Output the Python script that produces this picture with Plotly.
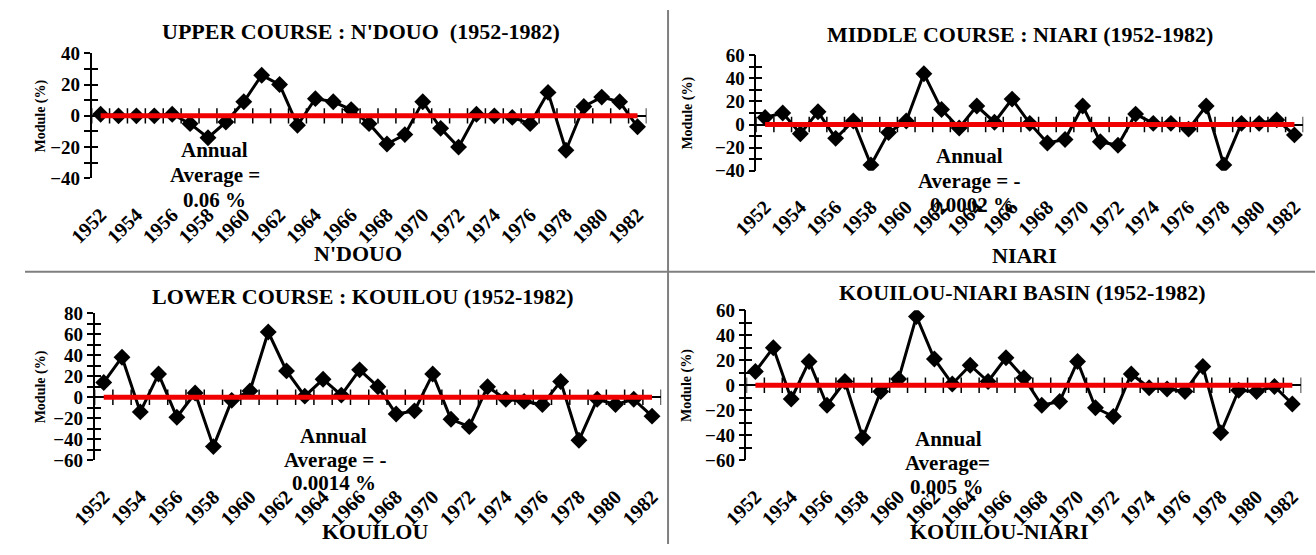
import plotly.graph_objects as go

W, H = 1316, 555
FONT = "Liberation Serif"

years = list(range(1952, 1983))

ndouo = [1, 0, 0, 0, 1, -5, -14, -4, 9, 26, 20, -6, 11, 9, 4, -5, -18, -12, 9, -8, -20,
         1, 0, -1, -5, 15, -22, 6, 12, 9, -7]
niari = [6, 10, -8, 11, -12, 3, -35, -7, 3, 44, 13, -3, 16, 2, 22, 1, -16, -13, 16, -15, -18,
         9, 1, 1, -4, 16, -35, 1, 1, 4, -9]
kouilou = [14, 38, -14, 22, -19, 4, -47, -3, 6, 62, 25, 1, 17, 2, 26, 10, -16, -13, 22, -21, -28,
           10, -2, -4, -7, 15, -41, -2, -7, -2, -18]
basin = [11, 30, -11, 19, -16, 3, -42, -5, 5, 55, 21, 1, 16, 3, 22, 6, -16, -13, 19, -18, -25,
         9, -2, -3, -5, 15, -38, -4, -5, -1, -15]

averages = [0.06, -0.0002, -0.0014, 0.005]
panel_titles = ["UPPER COURSE : N'DOUO  (1952-1982)", "MIDDLE COURSE : NIARI (1952-1982)",
                "LOWER COURSE : KOUILOU (1952-1982)", "KOUILOU-NIARI BASIN (1952-1982)"]
x_titles = ["N'DOUO", "NIARI", "KOUILOU", "KOUILOU-NIARI"]
avg_lines = [["Annual", "Average =", "0.06 %"],
             ["Annual", "Average = -", "0.0002 %"],
             ["Annual", "Average = -", "0.0014 %"],
             ["Annual", "Average=", "0.005 %"]]
y_ranges = [(-40, 40), (-40, 60), (-60, 80), (-60, 60)]
series = [ndouo, niari, kouilou, basin]
tick_years = list(range(1952, 1983, 2))

# layout geometry in pixels: (left, right, top, bottom)
boxes = [(68, 634, 45, 175), (746, 1304, 47, 167), (71, 649, 315, 468), (736, 1302, 312, 468)]
title_pos = [(343, 22), (1015, 25), (345, 298), (1018, 294)]
xtitle_pos = [(340, 253), (1020, 255), (357, 542), (994, 542)]
ytitle_x = [16, 676, 16, 676]
annot_pos = [[(193, 145), (194, 172), (193, 197)],
             [(964, 152), (964, 178), (966, 203)],
             [(315, 443), (317, 468), (315, 492)],
             [(942, 446), (941, 471), (941, 496)]]


def px(x):
    return x / W


def py(y):
    return 1 - y / H


fig = go.Figure()
annotations = []
boundaries = [y - 0.5 for y in years] + [years[-1] + 0.5]

for i in range(4):
    n = i + 1
    xa = "x" if n == 1 else f"x{n}"
    ya = "y" if n == 1 else f"y{n}"
    yo = f"y{n + 4}"
    l, r, t, b = boxes[i]
    lo, hi = y_ranges[i]
    fig.add_trace(go.Scatter(x=boundaries, y=[0] * len(boundaries), mode="markers",
                             marker=dict(symbol="line-ns", size=11,
                                         line=dict(color="black", width=1.5)),
                             xaxis=xa, yaxis=ya, showlegend=False, hoverinfo="skip"))
    fig.add_trace(go.Scatter(x=years, y=series[i], mode="lines+markers",
                             line=dict(color="black", width=3),
                             marker=dict(symbol="diamond", size=13, color="black"),
                             xaxis=xa, yaxis=ya, showlegend=False))
    fig.add_trace(go.Scatter(x=years, y=[averages[i]] * len(years), mode="lines",
                             line=dict(color="#f00000", width=5),
                             xaxis=xa, yaxis=yo, showlegend=False))
    xkey = "xaxis" if n == 1 else f"xaxis{n}"
    ykey = "yaxis" if n == 1 else f"yaxis{n}"
    okey = f"yaxis{n + 4}"
    fig.update_layout(**{
        xkey: dict(domain=[px(l), px(r)], anchor=ya, range=[1951.5, 1982.5],
                   tickmode="array", tickvals=tick_years, ticktext=[str(v) for v in tick_years],
                   tickangle=-45, ticks="", showline=False, showgrid=False, zeroline=False,
                   ticklabelstandoff=20,
                   tickfont=dict(family=FONT, size=20, color="black", weight="bold")),
        ykey: dict(domain=[py(b), py(t)], anchor=xa, range=[lo, hi], dtick=20,
                   showline=True, linecolor="black", linewidth=1.5,
                   ticks="outside", ticklen=6, tickwidth=1.5, tickcolor="black",
                   minor=dict(dtick=10, ticks="outside", ticklen=6, tickwidth=1.5, tickcolor="black"),
                   showgrid=False, zeroline=True, zerolinecolor="black", zerolinewidth=1.5,
                   tickfont=dict(family=FONT, size=19, color="black", weight="bold")),
        okey: dict(overlaying=ya, anchor=xa, side="left", range=[lo, hi], dtick=20,
                   showline=False, showticklabels=False, showgrid=False, zeroline=False,
                   ticks="inside", ticklen=6, tickwidth=1.5, tickcolor="black",
                   minor=dict(dtick=10, ticks="inside", ticklen=6, tickwidth=1.5, tickcolor="black")),
    })
    annotations.append(dict(text=panel_titles[i], x=px(title_pos[i][0]), y=py(title_pos[i][1]),
                            xref="paper", yref="paper", showarrow=False, xanchor="center",
                            yanchor="middle",
                            font=dict(family=FONT, size=22, color="black", weight="bold")))
    annotations.append(dict(text=x_titles[i], x=px(xtitle_pos[i][0]), y=py(xtitle_pos[i][1]),
                            xref="paper", yref="paper", showarrow=False, xanchor="center",
                            yanchor="middle",
                            font=dict(family=FONT, size=22, color="black", weight="bold")))
    annotations.append(dict(text="Module (%)", x=px(ytitle_x[i]), y=py((t + b) / 2),
                            xref="paper", yref="paper", showarrow=False, textangle=-90,
                            xanchor="center", yanchor="middle",
                            font=dict(family=FONT, size=14, color="black", weight="bold")))
    for txt, (ax, ay) in zip(avg_lines[i], annot_pos[i]):
        annotations.append(dict(text=txt, x=px(ax), y=py(ay), xref="paper", yref="paper",
                                showarrow=False, xanchor="center", yanchor="middle",
                                font=dict(family=FONT, size=21, color="black", weight="bold")))

shapes = [
    dict(type="line", xref="paper", yref="paper", x0=px(656), x1=px(656), y0=0, y1=1,
         line=dict(color="#7f7f7f", width=2)),
    dict(type="line", xref="paper", yref="paper", x0=0, x1=1, y0=py(272), y1=py(272),
         line=dict(color="#7f7f7f", width=2)),
]

fig.update_layout(width=W, height=H, margin=dict(l=0, r=0, t=0, b=0),
                  paper_bgcolor="white", plot_bgcolor="white", showlegend=False,
                  annotations=annotations, shapes=shapes)

fig.write_html("out.html", config={"displayModeBar": False},
               post_script="document.body.style.margin='0';document.body.style.overflow='hidden';")
